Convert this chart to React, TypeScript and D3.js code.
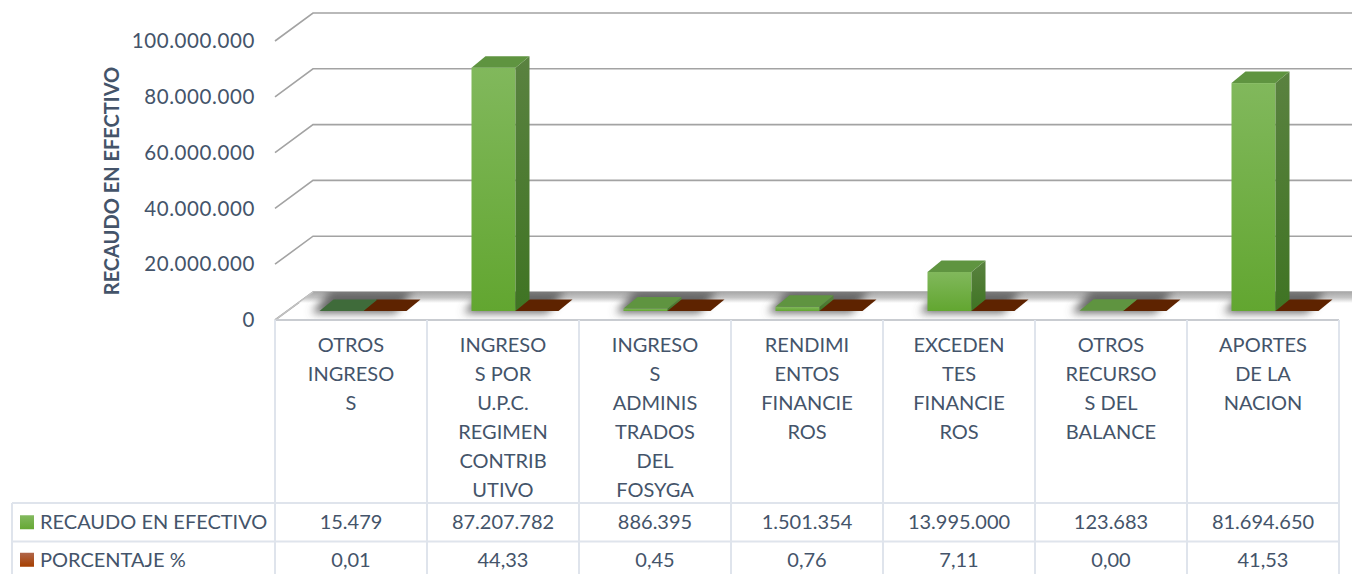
import React from "react";
import * as d3 from "d3";

const categories = [
  ["OTROS", "INGRESO", "S"],
  ["INGRESO", "S POR", "U.P.C.", "REGIMEN", "CONTRIB", "UTIVO"],
  ["INGRESO", "S", "ADMINIS", "TRADOS", "DEL", "FOSYGA"],
  ["RENDIMI", "ENTOS", "FINANCIE", "ROS"],
  ["EXCEDEN", "TES", "FINANCIE", "ROS"],
  ["OTROS", "RECURSO", "S DEL", "BALANCE"],
  ["APORTES", "DE LA", "NACION"],
];
const recaudo = [15479, 87207782, 886395, 1501354, 13995000, 123683, 81694650];
const porcentaje = [0.01, 44.33, 0.45, 0.76, 7.11, 0.0, 41.53];
const recaudoLabels = ["15.479", "87.207.782", "886.395", "1.501.354", "13.995.000", "123.683", "81.694.650"];
const porcentajeLabels = ["0,01", "44,33", "0,45", "0,76", "7,11", "0,00", "41,53"];
const yTicks = [0, 20000000, 40000000, 60000000, 80000000, 100000000];
const legendNames = ["RECAUDO EN EFECTIVO", "PORCENTAJE %"];
const axisTitle = "RECAUDO EN EFECTIVO";

const FONT = "Lato, Carlito, 'Open Sans', sans-serif";
const TEXT = "#44546a";
const GRID = "#a3a3a3";
const TABLE = "#dfe4ec";

const left = 275, right = 1339, floorY = 320;
const wallDx = 38, wallDy = -28;
const x = d3.scaleBand<number>().domain(d3.range(7)).range([left, right]);
const y = d3.scaleLinear().domain([0, 100000000]).range([floorY, 41]);
const fmt = (v: number) => d3.format(",")(v).replace(/,/g, ".");
const pts = (a: number[][]) => a.map((p) => p.join(",")).join(" ");

const barW = 44, barOff = 44.5, baseLift = 9, depthX = 14, depthY = -11.5;

function Bar({ x0, v, top, front, side }: { x0: number; v: number; top: string; front: string; side: string }) {
  const by = y(0) - baseLift;
  const h = y(0) - y(v);
  const ty = by - h;
  return (
    <g>
      {h > 0.5 && <rect x={x0} y={ty} width={barW} height={h} fill={front} />}
      {h > 0.5 && <polygon points={pts([[x0 + barW, by], [x0 + barW + depthX, by + depthY], [x0 + barW + depthX, ty + depthY], [x0 + barW, ty]])} fill={side} />}
      <polygon points={pts([[x0, ty], [x0 + barW, ty], [x0 + barW + depthX, ty + depthY], [x0 + depthX, ty + depthY]])} fill={top} />
    </g>
  );
}

export default function App() {
  const rowY = [503, 541.5, 580];
  const w = x.bandwidth();
  const back = floorY + wallDy;
  return (
    <svg width={1352} height={574} style={{ position: "fixed", left: 0, top: 0, background: "#fff" }} fontFamily={FONT}>
      <defs>
        <linearGradient id="gFront" x1="0" y1="0" x2="0" y2="1">
          <stop offset="0" stopColor="#81b85c" />
          <stop offset="1" stopColor="#62a630" />
        </linearGradient>
        <linearGradient id="gSide" x1="0" y1="0" x2="0" y2="1">
          <stop offset="0" stopColor="#5a8240" />
          <stop offset="1" stopColor="#3f7423" />
        </linearGradient>
        <linearGradient id="legG" x1="0" y1="0" x2="0" y2="1">
          <stop offset="0" stopColor="#83b95f" />
          <stop offset="1" stopColor="#66a834" />
        </linearGradient>
        <linearGradient id="legB" x1="0" y1="0" x2="0" y2="1">
          <stop offset="0" stopColor="#b0664a" />
          <stop offset="1" stopColor="#a63f00" />
        </linearGradient>
        <linearGradient id="bandG" x1="0" y1="0" x2="0" y2="1">
          <stop offset="0" stopColor="#a8a8a8" />
          <stop offset="0.5" stopColor="#c4c4c4" />
          <stop offset="1" stopColor="#ffffff" />
        </linearGradient>
        <filter id="shadowBlur" filterUnits="userSpaceOnUse" x="250" y="260" width="1110" height="90">
          <feGaussianBlur stdDeviation="4" />
        </filter>
        <clipPath id="floorClip">
          <polygon points={pts([[left, floorY], [left + wallDx, back], [1352, back], [1352, floorY], [right, floorY]])} />
        </clipPath>
      </defs>

      {yTicks.map((t) => (
        <polyline
          key={t}
          points={pts([[left, y(t)], [left + wallDx, y(t) + wallDy], [1352, y(t) + wallDy]])}
          fill="none"
          stroke={GRID}
          strokeWidth={1.6}
        />
      ))}

      <g clipPath="url(#floorClip)">
        <rect x={left} y={back} width={1100} height={11} fill="url(#bandG)" />
        <g filter="url(#shadowBlur)">
          {categories.map((_, i) => {
            const x0 = (x(i) as number) + barOff;
            const by = y(0) - baseLift;
            return (
              <polygon
                key={i}
                points={pts([
                  [x0 - 8, by + 2],
                  [x0 + barW * 2 - 12, by + 2],
                  [x0 + barW * 2 + 6, back - 2],
                  [x0 + 12, back - 2],
                ])}
                fill="#666666"
              />
            );
          })}
        </g>
      </g>
      <polyline points={pts([[left, floorY], [left + wallDx, back]])} fill="none" stroke="#c4c4c4" strokeWidth={1.2} />

      {categories.map((_, i) => {
        const x0 = (x(i) as number) + barOff;
        return (
          <g key={i}>
            <Bar x0={x0 + barW - 1} v={porcentaje[i]} top="#5e2300" front="#a63f00" side="#5e2300" />
            <Bar
              x0={x0}
              v={recaudo[i]}
              top={i === 0 ? "#3f6b3a" : "#5f9440"}
              front="url(#gFront)"
              side="url(#gSide)"
            />
          </g>
        );
      })}

      {yTicks.map((t) => (
        <text key={t} x={255} y={y(t)} dy="0.35em" fontSize={20.5} letterSpacing={0.6} textAnchor="end" fill={TEXT}>
          {fmt(t)}
        </text>
      ))}
      <text transform="translate(112,181) rotate(-90)" textAnchor="middle" dy="0.35em" fontSize={20} fontWeight={700} fill={TEXT}>
        {axisTitle}
      </text>

      <g stroke={TABLE} strokeWidth={2} fill="none">
        <line x1={left} x2={right} y1={floorY} y2={floorY} stroke="#c9ccd1" />
        {d3.range(8).map((i) => {
          const lx = left + i * w;
          return <line key={i} x1={lx} x2={lx} y1={floorY} y2={574} />;
        })}
        <line x1={12} x2={12} y1={rowY[0]} y2={574} />
        <line x1={12} x2={right} y1={rowY[0]} y2={rowY[0]} />
        <line x1={12} x2={right} y1={rowY[1]} y2={rowY[1]} />
      </g>

      {categories.map((lines, i) => (
        <g key={i}>
          {lines.map((l, k) => (
            <text
              key={k}
              x={(x(i) as number) + w / 2}
              y={345 + k * 29}
              dy="0.35em"
              fontSize={20}
              textAnchor="middle"
              fill={TEXT}
            >
              {l}
            </text>
          ))}
        </g>
      ))}

      {[recaudoLabels, porcentajeLabels].map((row, r) => {
        const cy = (rowY[r] + (r === 0 ? rowY[1] : 580)) / 2 - (r === 1 ? 1 : 0);
        return (
          <g key={r}>
            <rect x={20} y={cy - 7} width={14} height={14} fill={r === 0 ? "url(#legG)" : "url(#legB)"} />
            <text x={40} y={cy} dy="0.35em" fontSize={20} fill={TEXT}>
              {legendNames[r]}
            </text>
            {row.map((s, i) => (
              <text key={i} x={(x(i) as number) + w / 2} y={cy} dy="0.35em" fontSize={20} textAnchor="middle" fill={TEXT}>
                {s}
              </text>
            ))}
          </g>
        );
      })}
    </svg>
  );
}
